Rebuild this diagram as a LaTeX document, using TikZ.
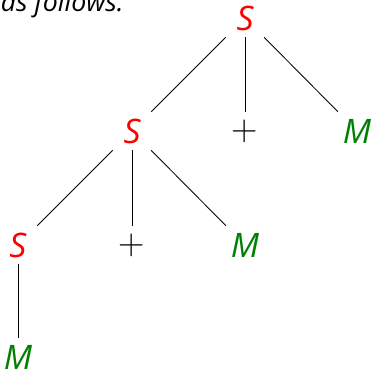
\documentclass[tikz,border=0pt]{standalone}
\usepackage{fontspec}
\setmainfont{Open Sans}
\newfontfamily\lmfont{Latin Modern Roman}
\usetikzlibrary{positioning}

\tikzset{
  sym/.style={rectangle, minimum width=0.95cm, minimum height=0.95cm, inner sep=0pt,
    font=\fontsize{24}{28}\selectfont\itshape},
  nterm/.style={sym, text=red},
  term/.style={sym, text=green!50!black},
  op/.style={sym, font=\fontsize{26}{30}\lmfont},
  rama/.style={line width=0.6pt}
}

\begin{document}
\begin{tikzpicture}[auto]
\useasboundingbox (0,0) rectangle (9.275,-9.2);

% texto de arriba (cortado por el borde)
\node [anchor=base east, inner sep=0pt, font=\fontsize{19}{23}\selectfont\itshape] (txt) at (3.1,-0.29) {as follows:};

% nivel 0
\node [nterm] (s0) at (6.125,-0.45) {S};
% nivel 1
\node [nterm] (s1) at (3.3,-3.275) {S};
\node [op] (p1) at (6.125,-3.275) {+};
\node [term] (m1) at (8.925,-3.275) {M};
% nivel 2
\node [nterm] (s2) at (0.45,-6.125) {S};
\node [op] (p2) at (3.3,-6.125) {+};
\node [term] (m2) at (6.125,-6.125) {M};
% nivel 3
\node [term] (m3) at (0.45,-8.925) {M};

% ramas
\draw [rama] (s0) -- (s1);
\draw [rama] (s0) -- (p1);
\draw [rama] (s0) -- (m1);
\draw [rama] (s1) -- (s2);
\draw [rama] (s1) -- (p2);
\draw [rama] (s1) -- (m2);
\draw [rama] (s2) -- (m3);
\end{tikzpicture}
\end{document}
